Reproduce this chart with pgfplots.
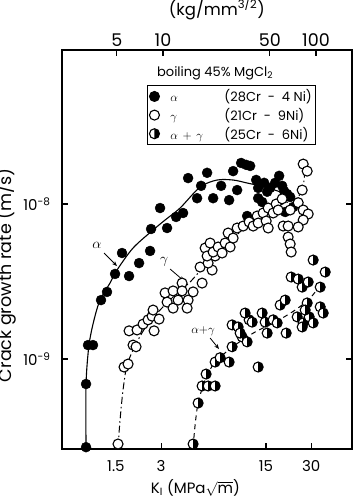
\documentclass[border=0pt]{standalone}
\usepackage{pgfplots}
\pgfplotsset{compat=1.18}
\usepackage{fontspec}
\setmainfont{Poppins}
\usetikzlibrary{arrows.meta}
\pgfdeclareplotmark{halfright}{%
  \pgfpathcircle{\pgfpointorigin}{\pgfplotmarksize}%
  \pgfsetfillcolor{white}\pgfusepathqfillstroke
  \pgfpathmoveto{\pgfqpoint{0pt}{\pgfplotmarksize}}%
  \pgfpatharc{90}{-90}{\pgfplotmarksize}%
  \pgfpathclose
  \pgfsetfillcolor{black}\pgfusepathqfill
}
\begin{document}
\begin{tikzpicture}
\begin{axis}[
  width=290pt, height=399pt, scale only axis,
  xmode=log, ymode=log,
  xmin=0.6563, xmax=56.1, ymin=2.627e-10, ymax=9.85e-8,
  axis line style={line width=1.1pt},
  tick align=inside, major tick length=6pt,
  every tick/.style={black, line width=1.1pt},
  xminorticks=false, yminorticks=false,
  xtick={1.5,3,15,30}, xticklabels={1.5,3,15,30},
  xtick pos=bottom,
  ytick={1e-9,1e-8}, yticklabels={10\textsuperscript{-9},10\textsuperscript{-8}},
  ytick pos=both,
  tick label style={font=\fontsize{15}{18}\selectfont},
  xticklabel style={yshift=-8pt},
  yticklabel style={xshift=-8pt},
  xlabel={K\textsubscript{I} (MPa$\sqrt{\hbox{m}}$)},
  xlabel style={font=\fontsize{15}{18}\selectfont, at={(axis description cs:0.46,0)}, anchor=north, yshift=-27pt},
  ylabel={Crack growth rate (m/s)},
  ylabel style={font=\fontsize{17.5}{20}\selectfont, at={(axis description cs:-0.145,0.436)}, anchor=south},
  legend style={at={(0.293,0.912)}, anchor=north west, draw=black, line width=1pt,
    font=\fontsize{13}{15}\selectfont, row sep=1pt, inner sep=2pt,
    cells={anchor=west}},
  legend cell align=left,
  clip=false,
]
\coordinate (SW) at (rel axis cs:0,0);
\coordinate (NE) at (rel axis cs:1,1);
% curves
\addplot[black, line width=1.1pt, smooth, tension=0.5, forget plot] table {
0.949 2.63e-10
0.949 6.90e-10
0.993 1.23e-9
1.072 1.785e-9
1.176 2.40e-9
1.371 3.093e-9
1.526 3.752e-9
1.952 5.202e-9
2.653 6.797e-9
3.190 7.885e-9
4.015 9.42e-9
5.459 1.287e-8
7.087 1.428e-8
9.06 1.428e-8
11.23 1.366e-8
14.80 1.287e-8
19.52 1.178e-8
22.41 1.093e-8
};
\addplot[black, line width=1pt, smooth, tension=0.5, dash pattern=on 7pt off 3pt on 1.5pt off 3pt, forget plot] table {
1.550 2.70e-10
1.599 4.042e-10
1.674 6.31e-10
1.780 9.148e-10
2.012 1.213e-9
2.347 1.585e-9
2.954 2.07e-9
3.720 2.587e-9
4.683 3.14e-9
5.896 4.042e-9
7.421 5.05e-9
10.09 6.597e-9
13.71 8.124e-9
18.64 9.853e-9
24.20 1.093e-8
26.54 1.326e-8
27.36 1.707e-8
};
\addplot[black, line width=1pt, smooth, tension=0.5, dash pattern=on 5pt off 4pt, forget plot] table {
4.903 2.70e-10
5.056 3.75e-10
5.295 5.20e-10
5.896 7.32e-10
6.873 9.56e-10
9.342 1.231e-9
12.70 1.494e-9
17.26 1.73e-9
23.47 2.07e-9
29.54 2.474e-9
34.45 3.002e-9
};
% alpha (filled)
\addplot[only marks, mark=*, mark size=5pt, mark options={fill=black, draw=black}] table {
0.949 2.70e-10
0.949 6.90e-10
0.978 1.23e-9
1.056 1.23e-9
1.194 2.40e-9
1.309 2.71e-9
1.481 3.54e-9
1.836 3.43e-9
1.648 4.83e-9
2.141 4.16e-9
2.534 4.98e-9
2.573 6.90e-9
2.954 9.42e-9
3.290 7.00e-9
3.777 8.25e-9
4.204 8.75e-9
4.541 1.47e-8
5.213 1.09e-8
5.543 1.31e-8
6.079 1.59e-8
6.667 1.09e-8
7.536 1.31e-8
8.520 1.06e-8
9.060 1.63e-8
9.634 1.23e-8
10.24 1.84e-8
11.06 1.79e-8
11.23 8.37e-9
11.76 1.76e-8
12.90 1.43e-8
13.30 1.27e-8
13.30 1.09e-8
14.14 1.03e-8
14.58 1.37e-8
15.27 1.20e-8
15.99 1.27e-8
17.26 1.37e-8
18.35 1.52e-8
19.22 1.31e-8
19.82 1.21e-8
20.75 1.16e-8
21.73 1.11e-8
22.76 9.56e-9
20.13 8.88e-9
};
\addlegendentry{\hspace{9pt}\makebox[54pt][l]{$\alpha$}(28Cr\ \ -\ \ 4 Ni)\hspace{2pt}}
% gamma (open)
\addplot[only marks, mark=*, mark size=5pt, mark options={fill=white, draw=black, line width=1.1pt}] table {
1.550 2.83e-10
1.700 8.88e-10
1.808 9.28e-10
1.952 1.23e-9
2.044 1.20e-9
1.836 1.52e-9
2.075 1.54e-9
2.276 1.68e-9
2.457 1.79e-9
2.613 1.89e-9
2.695 1.52e-9
2.909 1.81e-9
2.653 2.07e-9
3.190 2.67e-9
3.290 2.33e-9
3.607 2.75e-9
3.607 2.13e-9
3.895 2.40e-9
4.141 3.09e-9
4.141 2.75e-9
4.541 2.40e-9
4.472 2.13e-9
4.903 2.71e-9
5.629 3.09e-9
5.459 3.92e-9
6.563 3.75e-9
6.173 4.16e-9
6.873 4.62e-9
5.896 5.20e-9
6.079 4.62e-9
6.365 5.60e-9
6.667 4.90e-9
7.197 5.28e-9
7.653 4.83e-9
8.013 5.60e-9
8.652 5.28e-9
8.390 6.50e-9
9.060 6.03e-9
9.634 7.00e-9
10.57 7.21e-9
11.58 7.66e-9
12.32 7.21e-9
13.10 8.37e-9
13.30 7.54e-9
14.36 8.75e-9
15.04 7.77e-9
15.51 9.42e-9
15.51 7.00e-9
16.74 8.75e-9
17.53 1.00e-8
18.08 9.15e-9
19.22 1.08e-8
19.52 7.21e-9
21.07 7.21e-9
21.07 6.12e-9
21.73 5.52e-9
22.07 4.90e-9
21.73 9.15e-9
24.58 1.02e-8
26.54 9.15e-9
28.65 8.62e-9
26.54 7.89e-9
24.58 7.11e-9
26.13 1.23e-8
26.54 1.81e-8
28.21 1.63e-8
};
\addlegendentry{\hspace{9pt}\makebox[54pt][l]{$\gamma$}(21Cr\ \ -\ \ 9Ni)}
% alpha+gamma (half filled)
\addplot[only marks, mark=halfright, mark size=5pt, mark options={draw=black, line width=1.1pt}] table {
4.903 2.83e-10
5.295 5.20e-10
5.986 8.00e-10
5.629 6.70e-10
6.173 6.70e-10
6.873 6.70e-10
6.873 9.56e-10
7.421 1.02e-9
8.520 9.56e-10
8.921 1.20e-9
10.40 1.39e-9
11.23 1.29e-9
8.921 1.66e-9
9.785 1.61e-9
10.09 1.47e-9
11.58 1.79e-9
10.89 1.98e-9
12.13 1.73e-9
14.14 1.98e-9
13.30 8.88e-10
14.80 1.73e-9
15.27 1.47e-9
16.74 1.79e-9
17.80 1.71e-9
18.64 2.23e-9
20.13 2.40e-9
20.44 1.47e-9
24.20 1.87e-9
26.54 1.71e-9
28.21 2.30e-9
29.09 1.87e-9
30.93 1.71e-9
34.45 2.17e-9
36.07 1.98e-9
26.13 2.91e-9
28.65 3.14e-9
34.45 2.91e-9
30.93 4.35e-9
37.21 3.64e-9
22.07 3.38e-9
24.58 3.28e-9
27.36 2.07e-9
26.13 1.61e-9
};
\addlegendentry{\hspace{9pt}\makebox[54pt][l]{$\alpha\,+\,\gamma$}(25Cr\ \ -\ \ 6Ni)}
% annotations
\node[font=\fontsize{15}{18}\selectfont] at (axis cs:1.123,5.44e-9) {$\alpha$};
\draw[-{Stealth[length=5pt,width=4pt]}, line width=0.8pt] (axis cs:1.251,4.83e-9) -- (axis cs:1.526,3.98e-9);
\node[font=\fontsize{15}{18}\selectfont] at (axis cs:3.141,4.224e-9) {$\gamma$};
\draw[-{Stealth[length=5pt,width=4pt]}, line width=0.8pt] (axis cs:3.445,3.807e-9) -- (axis cs:4.271,3.186e-9);
\node[font=\fontsize{13}{16}\selectfont] at (axis cs:5.714,1.516e-9) {$\alpha{+}\gamma$};
\draw[-{Stealth[length=5pt,width=4pt]}, line width=0.8pt] (axis cs:6.365,1.366e-9) -- (axis cs:7.30,1.160e-9);
\node[font=\fontsize{13}{16}\selectfont] at (axis description cs:0.528,0.942) {boiling 45\% MgCl\textsubscript{2}};
\end{axis}
\begin{axis}[
  width=290pt, height=399pt, scale only axis,
  xmode=log, xmin=2.187, xmax=171.9, ymin=0, ymax=1,
  axis x line*=top, axis y line=none,
  axis line style={line width=1.1pt},
  tick align=inside, major tick length=6pt,
  every tick/.style={black, line width=1.1pt},
  xminorticks=false,
  xtick={5,10,50,100}, xticklabels={5,10,50,100},
  tick label style={font=\fontsize{17.5}{20}\selectfont},
  xlabel={(kg/mm\textsuperscript{3/2})},
  xlabel style={font=\fontsize{16.5}{19}\selectfont, at={(axis description cs:0.534,1)}, anchor=south, yshift=27pt},
]
\end{axis}
\pgfresetboundingbox
\path ([xshift=-62pt,yshift=-51pt]SW) rectangle ([xshift=5pt,yshift=50pt]NE);
\end{tikzpicture}
\end{document}
